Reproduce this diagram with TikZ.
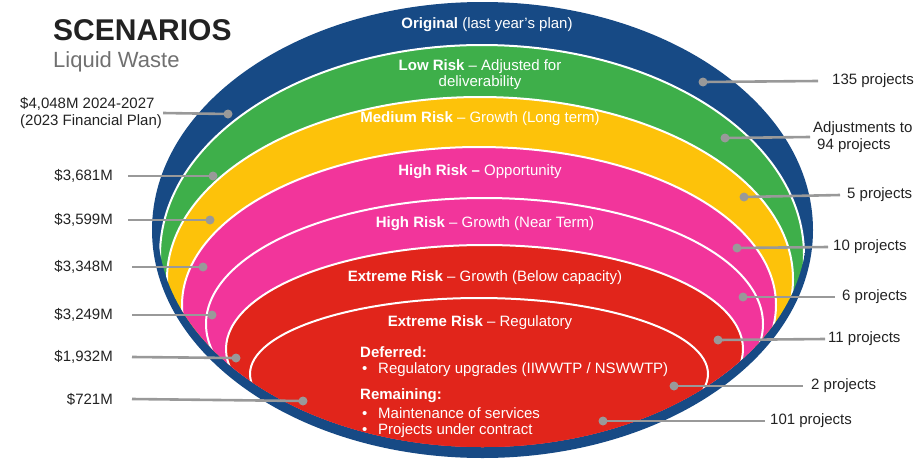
\documentclass[tikz,border=0pt]{standalone}
\usepackage{fontspec}
\setmainfont{Liberation Sans}
\definecolor{ringblue}{HTML}{174A85}
\definecolor{lowgreen}{HTML}{3EAF4A}
\definecolor{medyellow}{HTML}{FDC20A}
\definecolor{highpink}{HTML}{F2359B}
\definecolor{extred}{HTML}{E1251B}
\definecolor{leadgray}{HTML}{999999}
\definecolor{labelink}{HTML}{222222}
\definecolor{subgray}{HTML}{707070}
\begin{document}
\begin{tikzpicture}[x=1pt,y=-1pt,
  band/.style={draw=white, line width=2pt},
  lbl/.style={font=\fontsize{15}{17}\selectfont, text=labelink, inner sep=0pt},
  bandtxt/.style={font=\fontsize{15}{16}\selectfont, text=white, inner sep=0pt, align=center},
  listtxt/.style={font=\fontsize{15}{16}\selectfont, text=white, inner sep=0pt, anchor=west},
  dotmark/.style={circle, fill=leadgray, inner sep=0pt, minimum size=9pt},
  lead/.style={draw=leadgray, line width=2.6pt}]
\useasboundingbox (0,0) rectangle (918,458);

% outer ring
\fill[ringblue] (482.5,230) ellipse [x radius=330.5pt, y radius=228pt];

% nested scenario ellipses, kept inside the blue rim
\begin{scope}
  \clip (482.5,227.5) ellipse [x radius=324.5pt, y radius=219.5pt];
  \filldraw[band, fill=lowgreen]  (482,255)   ellipse [x radius=322pt,   y radius=210pt];
  \filldraw[band, fill=medyellow] (480,279)   ellipse [x radius=313pt,   y radius=182pt];
  \filldraw[band, fill=highpink]  (479,305)   ellipse [x radius=297pt,   y radius=158pt];
  \filldraw[band, fill=highpink]  (484.5,324) ellipse [x radius=278.5pt, y radius=126pt];
  \filldraw[band, fill=extred]    (484.5,349) ellipse [x radius=258.5pt, y radius=104pt];
  \filldraw[band, fill=extred]    (479,374)   ellipse [x radius=229pt,   y radius=76pt];
\end{scope}

% title
\node[anchor=base west, inner sep=0pt, font=\fontsize{30}{32}\selectfont\bfseries, text=labelink] (title) at (53,40) {SCENARIOS};
\node[anchor=base west, inner sep=0pt, font=\fontsize{22}{24}\selectfont, text=subgray] (subtitle) at (53,67) {Liquid Waste};

% scenario names
\node[bandtxt] (tOrig) at (487,25) {\textbf{Original} (last year’s plan)};
\node[bandtxt] (tLow)  at (480,75) {\textbf{Low Risk} – Adjusted for\\deliverability};
\node[bandtxt] (tMed)  at (480,119) {\textbf{Medium Risk} – Growth (Long term)};
\node[bandtxt] (tOpp)  at (480,172) {\textbf{High Risk –} Opportunity};
\node[bandtxt] (tNear) at (485,224) {\textbf{High Risk} – Growth (Near Term)};
\node[bandtxt] (tBelow) at (485,278) {\textbf{Extreme Risk} – Growth (Below capacity)};
\node[bandtxt] (tReg)  at (480,323) {\textbf{Extreme Risk} – Regulatory};
\node[listtxt] (tDef)  at (360,352) {\textbf{Deferred:}};
\node[listtxt] (tDefA) at (362,370) {\makebox[16pt][l]{•}Regulatory upgrades (IIWWTP / NSWWTP)};
\node[listtxt] (tRem)  at (360,396) {\textbf{Remaining:}};
\node[listtxt] (tRemA) at (362,413) {\makebox[16pt][l]{•}Maintenance of services};
\node[listtxt] (tRemB) at (362,431) {\makebox[16pt][l]{•}Projects under contract};

% cost labels (left)
\node[lbl, anchor=west, align=left] (c4048) at (20,113) {\$4,048M 2024-2027\\(2023 Financial Plan)};
\node[lbl, anchor=east] (c3681) at (113,176) {\$3,681M};
\node[lbl, anchor=east] (c3599) at (113,220) {\$3,599M};
\node[lbl, anchor=east] (c3348) at (113,267) {\$3,348M};
\node[lbl, anchor=east] (c3249) at (113,315) {\$3,249M};
\node[lbl, anchor=east] (c1932) at (113,357) {\$1,932M};
\node[lbl, anchor=east] (c721)  at (113,399) {\$721M};

\node[dotmark] (d4048) at (228,114) {};
\node[dotmark] (d3681) at (213,176) {};
\node[dotmark] (d3599) at (210,220) {};
\node[dotmark] (d3348) at (203,267) {};
\node[dotmark] (d3249) at (212,315) {};
\node[dotmark] (d1932) at (236,358) {};
\node[dotmark] (d721)  at (303,401) {};

\draw[lead] ([xshift=1pt]c4048.east) -- (d4048.center);
\draw[lead] ([xshift=15pt]c3681.east) -- (d3681.center);
\draw[lead] ([xshift=15pt]c3599.east) -- (d3599.center);
\draw[lead] ([xshift=19pt]c3348.east) -- (d3348.center);
\draw[lead] ([xshift=19pt]c3249.east) -- (d3249.center);
\draw[lead] ([xshift=19pt]c1932.east) -- (d1932.center);
\draw[lead] ([xshift=19pt]c721.east) -- (d721.center);

% project counts (right)
\node[lbl, anchor=west] (p135) at (832,81) {135 projects};
\node[lbl, anchor=west, align=left] (p94) at (813,137) {Adjustments to\\\hspace*{4pt}94 projects};
\node[lbl, anchor=west] (p5)   at (847,195) {5 projects};
\node[lbl, anchor=west] (p10)  at (833,247) {10 projects};
\node[lbl, anchor=west] (p6)   at (842,297) {6 projects};
\node[lbl, anchor=west] (p11)  at (828,339) {11 projects};
\node[lbl, anchor=west] (p2)   at (811,386) {2 projects};
\node[lbl, anchor=west] (p101) at (770,421) {101 projects};

\node[dotmark] (e135) at (703,82) {};
\node[dotmark] (e94)  at (725,138) {};
\node[dotmark] (e5)   at (744,197) {};
\node[dotmark] (e10)  at (737,248) {};
\node[dotmark] (e6)   at (743,297) {};
\node[dotmark] (e11)  at (718,340) {};
\node[dotmark] (e2)   at (674,386) {};
\node[dotmark] (e101) at (603,421) {};

\draw[lead] (e135.center) -- ([xshift=-14pt]p135.west);
\draw[lead] (e94.center)  -- ([xshift=-3pt]p94.west);
\draw[lead] (e5.center)   -- ([xshift=-7pt]p5.west);
\draw[lead] (e10.center)  -- ([xshift=-5pt]p10.west);
\draw[lead] (e6.center)   -- ([xshift=-7pt]p6.west);
\draw[lead] (e11.center)  -- ([xshift=-3pt]p11.west);
\draw[lead] (e2.center)   -- ([xshift=-8pt]p2.west);
\draw[lead] (e101.center) -- ([xshift=-5pt]p101.west);
\end{tikzpicture}
\end{document}
